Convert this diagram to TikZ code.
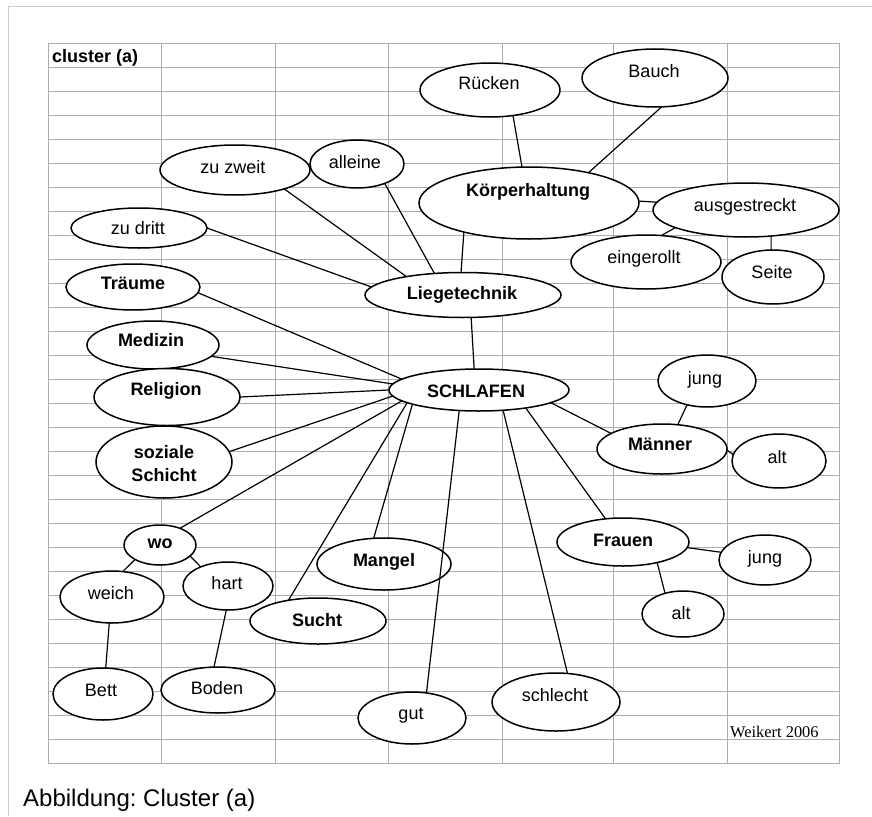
\documentclass[tikz,border=0pt]{standalone}
\usepackage{fontspec}
\setmainfont{Liberation Sans}
\newfontfamily\serifw{Liberation Serif}
\usetikzlibrary{shapes.geometric}
\definecolor{gridgray}{RGB}{172,172,172}
\definecolor{framegray}{RGB}{205,205,205}
\newcommand{\ellnode}[5]{\node[ell, minimum width=#4pt, minimum height=#5pt] (#1) at (#2,#3) {};}
\frenchspacing
\begin{document}
\begin{tikzpicture}[x=1pt,y=-1pt,
  ell/.style={ellipse, draw=black, line width=1.5pt, fill=white, inner sep=0pt, outer sep=0pt},
  lab/.style={inner sep=0pt, text height=12.9pt, text depth=0pt, font=\fontsize{18}{20}\selectfont},
  blab/.style={inner sep=0pt, text height=12.9pt, text depth=0pt, font=\fontsize{18}{20}\selectfont\bfseries},
  conn/.style={line width=1.2pt, draw=black},
  gridline/.style={line width=0.9pt, draw=gridgray}]
\useasboundingbox (0,0) rectangle (872,816);
% outer frame
\draw[framegray, line width=1pt] (8,816) -- (8,7) -- (872,7);
% grid
\foreach \k in {0,...,30} \draw[gridline] (48,{43+24.03*\k}) -- (839,{43+24.03*\k});
\foreach \x in {48,161,275,388,502,613,727,839} \draw[gridline] (\x,43) -- (\x,764);
% ellipses
\ellnode{zz}{235}{170}{150}{50}
\ellnode{al}{357}{164}{94}{48}
\ellnode{zd}{139}{228}{136}{40}
\ellnode{tr}{133}{287}{134}{46}
\ellnode{me}{153}{345}{132}{48}
\ellnode{re}{167}{397}{146}{57}
\ellnode{so}{164}{462}{136}{72}
\ellnode{wo}{160}{545}{72}{40}
\ellnode{we}{112}{597}{104}{52}
\ellnode{ha}{228}{586}{90}{48}
\ellnode{su}{318}{621}{136}{46}
\ellnode{be}{103}{694}{100}{52}
\ellnode{bo}{218}{690}{114}{46}
\ellnode{ma}{384}{564}{134}{52}
\ellnode{gu}{412}{718}{108}{52}
\ellnode{ru}{490}{90}{140}{54}
\ellnode{ba}{655}{78}{146}{58}
\ellnode{kh}{529}{203}{220}{72}
\ellnode{au}{746}{210}{186}{54}
\ellnode{ei}{646}{262}{150}{54}
\ellnode{se}{773}{277}{102}{54}
\ellnode{li}{463}{295}{196}{45}
\ellnode{sc}{479}{390}{180}{42}
\ellnode{jm}{707}{381}{98}{52}
\ellnode{mn}{662}{449}{130}{50}
\ellnode{am}{779}{461}{94}{54}
\ellnode{fr}{623}{542}{132}{48}
\ellnode{jf}{765}{560}{92}{50}
\ellnode{af}{683}{614}{82}{46}
\ellnode{sl}{556}{702}{128}{58}
% connectors
\draw[conn] (zz.339) -- (li.162);
\draw[conn] (al.325) -- (li.143);
\draw[conn] (zd.0) -- (li.175);
\draw[conn] (kh.204) -- (li.95);
\draw[conn] (ru.312) -- (kh.101);
\draw[conn] (ba.283) -- (kh.27);
\draw[conn] (kh.1) -- (au.175);
\draw[conn] (au.194) -- (ei.60);
\draw[conn] (au.314) -- (se.94);
\draw[conn] (li.290) -- (sc.103);
\draw[conn] (tr.355) -- (sc.172);
\draw[conn] (me.349) -- (sc.176);
\draw[conn] (re.0) -- (sc.180);
\draw[conn] (so.9) -- (sc.184);
\draw[conn] (wo.40) -- (sc.188);
\draw[conn] (su.145) -- (sc.190);
\draw[conn] (ma.112) -- (sc.192);
\draw[conn] (gu.60) -- (sc.226);
\draw[conn] (sl.68) -- (sc.320);
\draw[conn] (fr.127) -- (sc.339);
\draw[conn] (mn.163) -- (sc.350);
\draw[conn] (jm.230) -- (mn.57);
\draw[conn] (mn.359) -- (am.172);
\draw[conn] (fr.355) -- (jf.170);
\draw[conn] (fr.329) -- (af.131);
\draw[conn] (wo.210) -- (we.67);
\draw[conn] (wo.340) -- (ha.145);
\draw[conn] (we.264) -- (be.84);
\draw[conn] (ha.266) -- (bo.100);
% labels
\node[lab] (zzt) at (233,167) {zu zweit};
\node[lab] (alt) at (355,162) {alleine};
\node[lab] (zdt) at (138,228) {zu dritt};
\node[blab] (trt) at (133,283) {Träume};
\node[blab] (met) at (151,340) {Medizin};
\node[blab] (ret) at (166,389) {Religion};
\node[inner sep=0pt, align=center, font=\fontsize{18}{23}\selectfont\bfseries] (sot) at (164,463.5) {soziale\\Schicht};
\node[blab] (wot) at (160,542) {wo};
\node[lab] (wet) at (111,593) {weich};
\node[lab] (hat) at (227,583) {hart};
\node[blab] (sut) at (317,620) {Sucht};
\node[lab] (bet) at (101,690) {Bett};
\node[lab] (bot) at (217,688) {Boden};
\node[blab] (mat) at (384,560) {Mangel};
\node[lab] (gut) at (411,713) {gut};
\node[lab] (rut) at (489,83) {Rücken};
\node[lab] (bat) at (654,71) {Bauch};
\node[blab] (kht) at (528,190) {Körperhaltung};
\node[lab] (aut) at (745,205) {ausgestreckt};
\node[lab] (eit) at (644,257) {eingerollt};
\node[lab] (set) at (772,272) {Seite};
\node[blab] (lit) at (462,293) {Liegetechnik};
\node[blab] (sct) at (476,391) {SCHLAFEN};
\node[lab] (jmt) at (705,378) {jung};
\node[blab] (mnt) at (660,444) {Männer};
\node[lab] (amt) at (777,457) {alt};
\node[blab] (frt) at (623,540) {Frauen};
\node[lab] (jft) at (765,557) {jung};
\node[lab] (aft) at (681,613) {alt};
\node[lab] (slt) at (555,695) {schlecht};
% texts
\node[anchor=base west, inner sep=0pt, font=\fontsize{18}{20}\selectfont\bfseries] (title) at (52,63) {cluster (a)};
\node[anchor=base west, inner sep=0pt, font=\serifw\fontsize{16.4}{18}\selectfont] (sig) at (730,737) {Weikert 2006};
\node[anchor=base west, inner sep=0pt, font=\fontsize{24}{28}\selectfont] (cap) at (23,806) {Abbildung: Cluster (a)};
\end{tikzpicture}
\end{document}
